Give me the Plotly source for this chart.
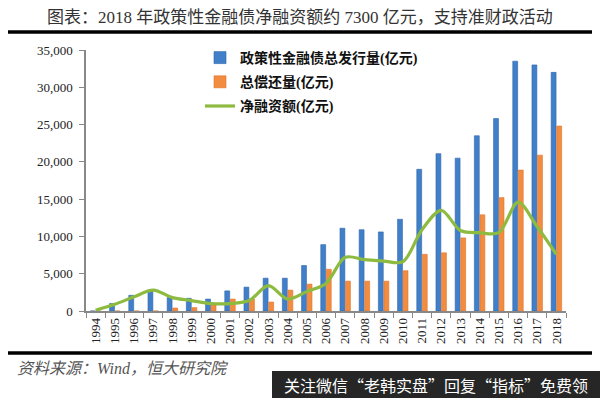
import plotly.graph_objects as go

years = [str(y) for y in range(1994, 2019)]
issuance = [0, 1000, 2100, 2800, 1800, 1700, 1600, 2700, 3200, 4400, 4400, 6100, 8900,
            11100, 10900, 10600, 12300, 19000, 21100, 20500, 23500, 25800, 33500, 33000, 32000]
repayment = [0, 0, 0, 0, 400, 450, 800, 1600, 1600, 1200, 2800, 3600, 5600,
             4000, 4000, 4000, 5400, 7600, 7800, 9800, 12900, 15200, 18900, 20900, 24800]
net_financing = [100, 900, 1900, 2800, 1800, 1400, 1000, 1000, 1400, 3400, 1600, 2600, 3700,
                 7200, 6900, 6700, 6600, 10900, 13500, 10800, 10500, 10500, 14600, 11300, 7600]

names = ["政策性金融债总发行量(亿元)", "总偿还量(亿元)", "净融资额(亿元)"]
title_text = "图表：2018 年政策性金融债净融资额约 7300 亿元，支持准财政活动"
source_text = "资料来源：Wind，恒大研究院"
banner_text = "关注微信“老韩实盘”回复“指标”免费领"

serif = "Liberation Serif, Noto Sans CJK SC, serif"
cjk = "Liberation Serif, Noto Sans CJK SC, sans-serif"

fig = go.Figure()
fig.add_trace(go.Bar(x=years, y=issuance, name=names[0], legendgroup="a",
                     marker=dict(color="#4180c9", line=dict(color="#2d65ad", width=0.6))))
fig.add_trace(go.Bar(x=years, y=repayment, name=names[1], legendgroup="b",
                     marker=dict(color="#f28c40", line=dict(color="#e0732a", width=0.6))))
fig.add_trace(go.Scatter(x=years, y=net_financing, name=names[2], mode="lines", legendgroup="c",
                         line=dict(color="#8dbb3f", width=3.2, shape="spline", smoothing=0.9)))

def px(x):
    return (x - 86) / 480.0

def py(y):
    return (311 - y) / 261.0

shapes = [
    dict(type="line", xref="paper", yref="paper", x0=px(8), x1=px(592), y0=py(32), y1=py(32),
         line=dict(color="black", width=3.5)),
    dict(type="line", xref="paper", yref="paper", x0=px(8), x1=px(592), y0=py(353), y1=py(353),
         line=dict(color="black", width=3.5)),
    dict(type="rect", xref="paper", yref="paper", x0=px(272), x1=px(600), y0=py(371), y1=py(398),
         fillcolor="#262626", line=dict(width=0)),
]

annotations = [
    dict(text=title_text, xref="paper", yref="paper", x=px(300), y=py(17), showarrow=False,
         font=dict(family=cjk, size=17, color="#333333"), xanchor="center", yanchor="middle"),
    dict(text="<i>" + source_text + "</i>", xref="paper", yref="paper", x=px(15), y=py(368),
         showarrow=False, font=dict(family=cjk, size=16, color="#555555"),
         xanchor="left", yanchor="middle"),
    dict(text=banner_text, xref="paper", yref="paper", x=px(282), y=py(385), showarrow=False,
         font=dict(family="Noto Sans CJK SC, sans-serif", size=16, color="white"),
         xanchor="left", yanchor="middle"),
]

fig.update_layout(
    width=600, height=398,
    margin=dict(l=86, r=34, t=50, b=87),
    paper_bgcolor="white", plot_bgcolor="white",
    barmode="group", bargap=0.42, bargroupgap=0.12,
    showlegend=True,
    legend=dict(x=px(200), y=py(42), xanchor="left", yanchor="top",
                font=dict(family=cjk, size=14, color="#111111", weight="bold"),
                bgcolor="rgba(255,255,255,0)", itemwidth=30, tracegroupgap=3),
    shapes=shapes, annotations=annotations,
    xaxis=dict(type="category", tickangle=-90, showgrid=False,
               showline=True, linecolor="#888888", linewidth=1.5,
               ticks="outside", tickson="boundaries", ticklen=5, tickcolor="#888888",
               tickfont=dict(family=serif, size=13, color="#222222")),
    yaxis=dict(range=[0, 35000], dtick=5000, tickformat=",", showgrid=False,
               showline=True, linecolor="#888888", linewidth=1.5,
               ticks="outside", ticklen=5, tickcolor="#888888", ticklabelstandoff=4,
               tickfont=dict(family=serif, size=13, color="#222222"), zeroline=False),
)

fig.write_html("out.html", config={"displayModeBar": False},
               post_script="document.body.style.margin='0';document.body.style.overflow='hidden';")
